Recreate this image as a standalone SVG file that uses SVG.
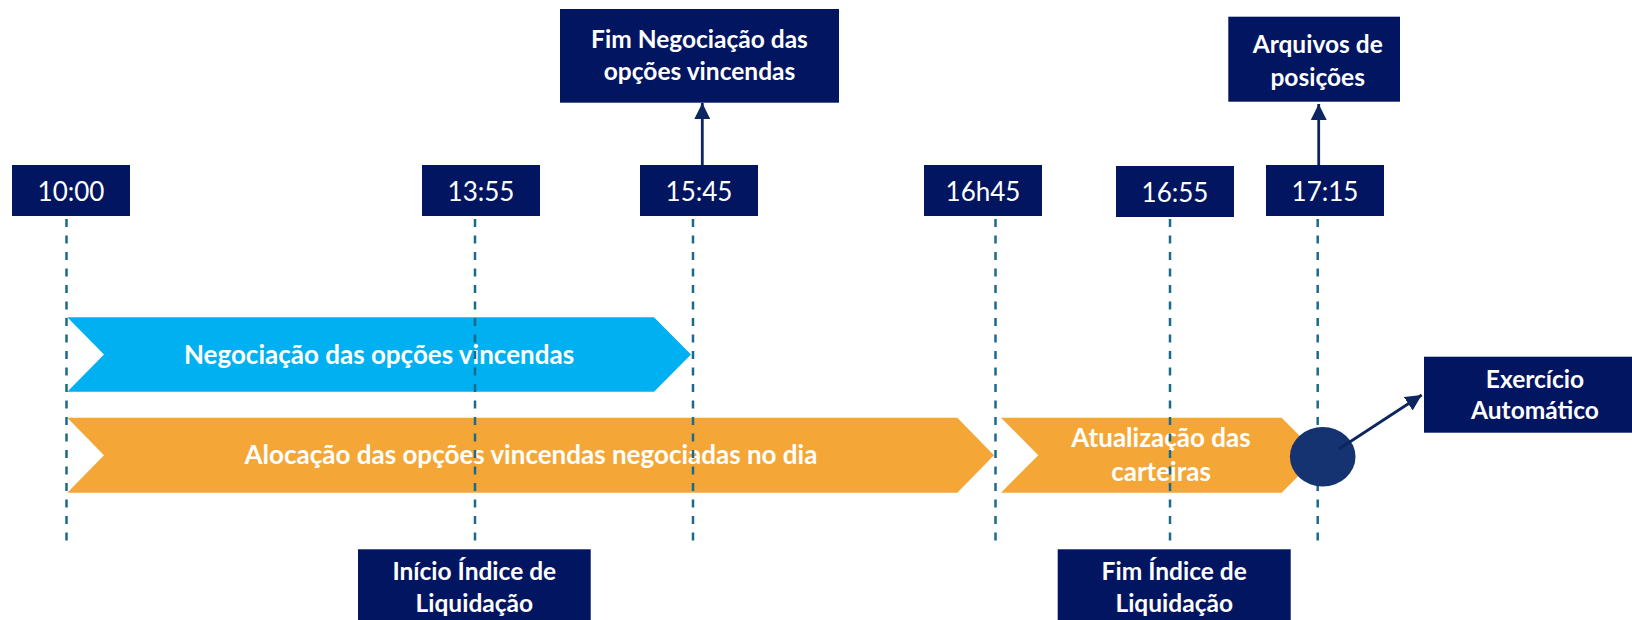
<svg xmlns="http://www.w3.org/2000/svg" width="1632" height="620" viewBox="0 0 1632 620">
  <defs>
    <style>
      .box { fill: #011561; }
      .time { font-family: Lato, "Open Sans", sans-serif; font-size: 26px; fill: #ffffff; text-anchor: middle; }
      .lbl { font-family: Lato, "Open Sans", sans-serif; font-size: 24.5px; font-weight: bold; fill: #ffffff; text-anchor: middle; }
      .bar { font-family: Lato, "Open Sans", sans-serif; font-size: 26px; font-weight: bold; fill: #ffffff; text-anchor: middle; }
      .guide { stroke: #1b6a8c; stroke-width: 2.5; stroke-dasharray: 8 8.5; fill: none; }
      .conn { stroke: #0d2560; stroke-width: 2.8; fill: none; }
    </style>
    <marker id="ah" viewBox="0 0 10 10" refX="10" refY="5" markerUnits="userSpaceOnUse" markerWidth="16" markerHeight="16" orient="auto">
      <path d="M0,0 L10,5 L0,10 Z" fill="#0d2560"/>
    </marker>
  </defs>

  <g id="bars">
    <g id="bar-negociacao">
      <polygon points="67.3,317.3 654,317.3 691,354.5 654,391.7 67.3,391.7 104,354.5" fill="#00b0f0"/>
      <text class="bar" x="379" y="363.5">Negociação das opções vincendas</text>
    </g>
    <g id="bar-alocacao">
      <polygon points="67.3,417.7 957.3,417.7 994,455.2 957.3,492.7 67.3,492.7 104,455.2" fill="#f4a736"/>
      <text class="bar" x="531" y="464.3">Alocação das opções vincendas negociadas no dia</text>
    </g>
    <g id="bar-atualizacao">
      <polygon points="1001,417.7 1281.7,417.7 1319,455.2 1281.7,492.7 1001,492.7 1038.3,455.2" fill="#f4a736"/>
      <text class="bar" x="1161" y="447.3">Atualização das</text>
      <text class="bar" x="1161" y="481">carteiras</text>
    </g>
  </g>

  <g id="guides">
    <line class="guide" x1="66.5" y1="219" x2="66.5" y2="545"/>
    <line class="guide" x1="475" y1="219" x2="475" y2="545"/>
    <line class="guide" x1="693" y1="219" x2="693" y2="545"/>
    <line class="guide" x1="995.5" y1="219" x2="995.5" y2="545"/>
    <line class="guide" x1="1170" y1="219" x2="1170" y2="545"/>
    <line class="guide" x1="1317.7" y1="219" x2="1317.7" y2="547"/>
  </g>

  <g id="event-exercicio-dot">
    <ellipse cx="1322.7" cy="456.7" rx="32.8" ry="29.8" fill="#143370"/>
  </g>

  <g id="connectors">
    <line class="conn" x1="702.3" y1="165" x2="702.3" y2="103" marker-end="url(#ah)"/>
    <line class="conn" x1="1318.7" y1="165" x2="1318.7" y2="104" marker-end="url(#ah)"/>
    <line class="conn" x1="1339" y1="449" x2="1421.7" y2="395" marker-end="url(#ah)"/>
  </g>

  <g id="t1000"><rect class="box" x="12" y="165" width="118" height="51"/><text class="time" x="71" y="201">10:00</text></g>
  <g id="t1355"><rect class="box" x="422" y="165" width="118" height="51"/><text class="time" x="481" y="201">13:55</text></g>
  <g id="t1545"><rect class="box" x="640" y="165" width="118" height="51"/><text class="time" x="699" y="201">15:45</text></g>
  <g id="t1645"><rect class="box" x="924" y="165" width="118" height="51"/><text class="time" x="983" y="201">16h45</text></g>
  <g id="t1655"><rect class="box" x="1116" y="166" width="118" height="51"/><text class="time" x="1175" y="202">16:55</text></g>
  <g id="t1715"><rect class="box" x="1266" y="165" width="118" height="51"/><text class="time" x="1325" y="201">17:15</text></g>

  <g id="fim-negociacao">
    <rect class="box" x="560" y="9" width="279" height="93.7"/>
    <text class="lbl" x="699.5" y="48.3">Fim Negociação das</text>
    <text class="lbl" x="699.5" y="80">opções vincendas</text>
  </g>
  <g id="arquivos">
    <rect class="box" x="1228.3" y="16.7" width="171.7" height="85"/>
    <text class="lbl" x="1317.7" y="52.7">Arquivos de</text>
    <text class="lbl" x="1317.7" y="86">posições</text>
  </g>
  <g id="exercicio">
    <rect class="box" x="1424" y="356.7" width="222" height="76"/>
    <text class="lbl" x="1535" y="387.7">Exercício</text>
    <text class="lbl" x="1535" y="419.3">Automático</text>
  </g>
  <g id="inicio-indice">
    <rect class="box" x="358" y="549.3" width="232.7" height="80"/>
    <text class="lbl" x="474.3" y="580">Início Índice de</text>
    <text class="lbl" x="474.3" y="611.7">Liquidação</text>
  </g>
  <g id="fim-indice">
    <rect class="box" x="1057.7" y="549.3" width="233" height="80"/>
    <text class="lbl" x="1174.2" y="580">Fim Índice de</text>
    <text class="lbl" x="1174.2" y="611.7">Liquidação</text>
  </g>
</svg>
